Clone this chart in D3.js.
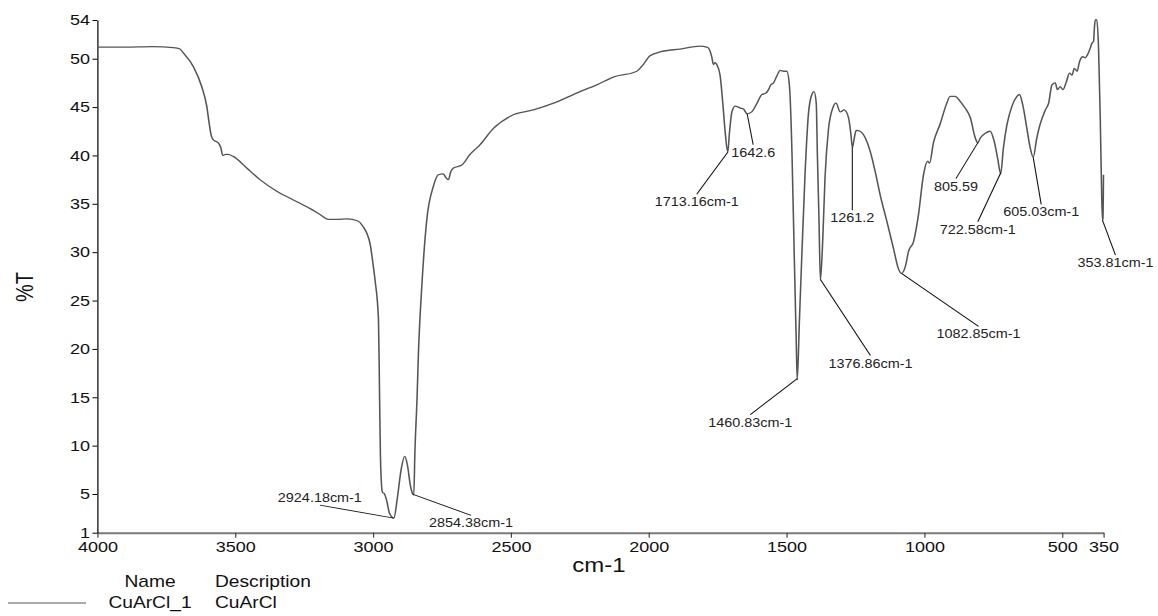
<!DOCTYPE html>
<html lang="en">
<head>
<meta charset="UTF-8">
<title>CuArCl IR spectrum</title>
<style>
    body { margin: 0; background: #fff; }
    svg text { font-family: "Liberation Sans", Arial, sans-serif; }
</style>
</head>
<body>
<script src="https://d3js.org/d3.v7.min.js"></script>
<script>
    // spectrum: wavenumber (cm-1) and %T
    var wavenumber = [
        4000, 3900, 3800, 3724, 3700, 3688, 3652, 3621, 3603, 3594, 3587, 3579, 3561, 3552, 3545, 3535, 3525, 3507,
        3458, 3410, 3349, 3289, 3228, 3192, 3162, 3130, 3095, 3053, 3035, 3023, 3010, 3000, 2992, 2980, 2976, 2973,
        2970, 2966, 2958, 2950, 2940, 2924, 2912, 2898, 2885, 2875, 2865, 2856, 2852, 2848, 2840, 2835, 2823, 2805,
        2781, 2763, 2745, 2735, 2726, 2718, 2708, 2678, 2648, 2612, 2563, 2491, 2418, 2345, 2249, 2188, 2128, 2043,
        2025, 1995, 1958, 1886, 1813, 1790, 1783, 1771, 1765, 1759, 1753, 1741, 1731, 1722, 1713, 1707, 1698, 1686,
        1668, 1656, 1643, 1626, 1607, 1589, 1577, 1565, 1557, 1547, 1535, 1523, 1508, 1499, 1489, 1480, 1472, 1465,
        1461, 1453, 1444, 1432, 1420, 1408, 1400, 1392, 1388, 1382, 1377, 1368, 1360, 1348, 1332, 1320, 1305, 1291,
        1275, 1266, 1261, 1254, 1247, 1233, 1214, 1196, 1178, 1160, 1136, 1112, 1094, 1083, 1069, 1057, 1039, 1021,
        1003, 988, 981, 967, 942, 921, 906, 888, 870, 852, 833, 815, 806, 797, 779, 761, 746, 734, 723, 713, 700,
        682, 664, 655, 642, 628, 616, 605, 592, 580, 561, 549, 537, 525, 517, 507, 497, 485, 473, 464, 456, 446,
        437, 425, 416, 408, 398, 392, 386, 383, 380, 374, 368, 362, 358, 354, 352, 350
    ];
    var transmittance = [
        51.2, 51.2, 51.25, 51.15, 51.0, 50.6, 49.2, 47.1, 45.1, 43.3, 42.1, 41.6, 41.3, 40.8, 40.0, 40.1, 40.1, 39.9,
        38.7, 37.5, 36.3, 35.4, 34.5, 33.9, 33.4, 33.4, 33.45, 33.2, 32.6, 32.0, 30.8, 28.8, 27.0, 23.0, 15.0, 9.0,
        6.5, 5.2, 5.0, 4.3, 3.0, 2.5, 4.5, 7.5, 8.9, 8.0, 6.0, 5.0, 4.9, 9.2, 15.0, 19.6, 26.4, 33.3,
        36.8, 38.0, 38.1, 37.7, 37.5, 38.3, 38.7, 39.0, 40.1, 41.1, 42.8, 44.2, 44.7, 45.4, 46.6, 47.3, 48.1, 48.7,
        49.2, 50.3, 50.7, 51.0, 51.3, 51.2, 51.1, 50.2, 49.4, 49.6, 49.4, 48.3, 45.4, 42.3, 40.3, 42.3, 44.5, 45.1,
        44.9, 44.8, 44.3, 44.5, 45.4, 46.3, 46.4, 46.8, 47.3, 47.5, 48.2, 48.8, 48.7, 48.7, 47.1, 40.2, 29.9, 21.3,
        16.8, 23.0, 29.9, 38.5, 44.4, 46.3, 46.6, 45.4, 40.2, 33.3, 27.1, 31.6, 37.8, 42.6, 44.9, 45.4, 44.5, 44.7,
        43.9, 42.1, 40.8, 41.8, 42.6, 42.5, 41.8, 40.4, 38.3, 35.9, 33.2, 30.4, 28.3, 27.8, 28.5, 30.1, 31.1, 33.9,
        38.0, 39.4, 39.2, 41.3, 43.3, 45.2, 46.1, 46.1, 45.6, 44.9, 43.9, 41.8, 41.3, 41.8, 42.3, 42.5, 41.4, 39.7, 38.1, 40.8, 43.2,
        45.1, 46.1, 46.3, 45.1, 42.8, 40.8, 39.8, 41.8, 43.2, 44.7, 45.4, 47.3, 47.5, 46.8, 47.1, 46.8, 47.6, 48.5, 48.3, 49.0, 48.7,
        49.7, 50.2, 50.1, 50.4, 51.1, 51.6, 51.8, 53.2, 54.0, 54.0, 51.1, 44.2, 38.0, 33.3, 33.5, 38.0
    ];

    var xTicks = [4000, 3500, 3000, 2500, 2000, 1500, 1000, 500, 350];
    var yTicks = [54, 50, 45, 40, 35, 30, 25, 20, 15, 10, 5, 1];

    var peakWavenumber = [2924.18, 2854.38, 1713.16, 1642.6, 1460.83, 1376.86, 1261.2, 1082.85, 805.59, 722.58, 605.03, 353.81];
    var peakLabel = ["2924.18cm-1", "2854.38cm-1", "1713.16cm-1", "1642.6", "1460.83cm-1", "1376.86cm-1",
                     "1261.2", "1082.85cm-1", "805.59", "722.58cm-1", "605.03cm-1", "353.81cm-1"];

    var legendName = ["CuArCl_1"];
    var legendDesc = ["CuArCl"];

    // where each peak label ends up, relative to its peak (screen px)
    var calloutOffset = [[-74, -13], [58, 21], [-31, 42], [6, 31], [-47, 36], [50, 76],
                         [0, 63], [77, 53], [-22, 36], [-23, 49], [8, 47], [13, 35]];

    // the whole picture is widened sideways, so draw narrow and stretch
    var stretch = 1.2;
    var width = 1158 / stretch;
    var height = 616;

    var svg = d3.select("body").append("svg")
        .attr("width", 1158).attr("height", height)
        .attr("viewBox", "0 0 " + width + " " + height)
        .attr("preserveAspectRatio", "none");

    var x = d3.scaleLinear().domain([4000, 350]).range([97.3 / stretch, 1103.5 / stretch]);
    var y = d3.scaleLinear().domain([1, 54]).range([532.7, 20]);

    function tAt(w) {
        for (var i = 1; i < wavenumber.length; i++) {
            if (wavenumber[i] <= w) {
                var f = (wavenumber[i - 1] - w) / (wavenumber[i - 1] - wavenumber[i]);
                return transmittance[i - 1] + f * (transmittance[i] - transmittance[i - 1]);
            }
        }
        return transmittance[transmittance.length - 1];
    }

    // axes
    var xAxis = svg.append("g")
        .attr("transform", "translate(0," + y(1) + ")")
        .call(d3.axisBottom(x).tickValues(xTicks).tickFormat(d3.format("d")).tickSize(5).tickSizeOuter(0).tickPadding(4));
    xAxis.select(".domain").attr("stroke", "#7a7a7a").attr("stroke-width", 2);
    xAxis.selectAll(".tick line").attr("stroke", "#444");
    xAxis.selectAll("text").attr("font-size", 15).attr("fill", "#111").style("font-family", "'Liberation Sans', Arial, sans-serif");

    var yAxis = svg.append("g")
        .attr("transform", "translate(" + x(4000) + ",0)")
        .call(d3.axisLeft(y).tickValues(yTicks).tickSize(4).tickSizeOuter(0).tickPadding(2));
    yAxis.select(".domain").attr("stroke", "#000").attr("stroke-width", 1);
    yAxis.selectAll("text").attr("font-size", 15).attr("fill", "#111").style("font-family", "'Liberation Sans', Arial, sans-serif");

    svg.append("text")
        .attr("x", 599 / stretch).attr("y", 572)
        .attr("text-anchor", "middle").attr("font-size", 20).attr("fill", "#111")
        .text("cm-1");

    svg.append("text")
        .attr("transform", "translate(" + (33 / stretch) + ",287) rotate(-90)")
        .attr("text-anchor", "middle").attr("font-size", 20).attr("fill", "#111")
        .text("%T");

    // spectrum
    var line = d3.line()
        .x(function (d, i) { return x(wavenumber[i]); })
        .y(function (d, i) { return y(transmittance[i]); })
        .curve(d3.curveMonotoneX);

    svg.append("path")
        .datum(wavenumber)
        .attr("d", line)
        .attr("fill", "none")
        .attr("stroke", "#555")
        .attr("stroke-width", 1.3);

    // peak callouts
    var callout = svg.selectAll(".callout").data(peakWavenumber).enter().append("g").attr("class", "callout");

    callout.append("line")
        .attr("x1", function (d) { return x(d); })
        .attr("y1", function (d) { return y(tAt(d)); })
        .attr("x2", function (d, i) { return x(d) + calloutOffset[i][0] / stretch; })
        .attr("y2", function (d, i) { return y(tAt(d)) + calloutOffset[i][1]; })
        .attr("stroke", "#111")
        .attr("stroke-width", 0.9);

    callout.append("text")
        .attr("x", function (d, i) { return x(d) + calloutOffset[i][0] / stretch; })
        .attr("y", function (d, i) {
            var endY = y(tAt(d)) + calloutOffset[i][1];
            return calloutOffset[i][1] < 0 ? endY - 3 : endY + 12;
        })
        .attr("text-anchor", "middle")
        .attr("font-size", 12)
        .attr("fill", "#222")
        .text(function (d, i) { return peakLabel[i]; });

    // legend table
    var legend = svg.append("g").attr("font-size", 16).attr("fill", "#111");
    legend.append("text").attr("x", 150 / stretch).attr("y", 587).attr("text-anchor", "middle").text("Name");
    legend.append("text").attr("x", 215 / stretch).attr("y", 587).text("Description");

    var row = legend.selectAll(".row").data(legendName).enter().append("g").attr("class", "row");
    row.append("line")
        .attr("x1", 8 / stretch).attr("x2", 86 / stretch)
        .attr("y1", function (d, i) { return 603 + i * 21; })
        .attr("y2", function (d, i) { return 603 + i * 21; })
        .attr("stroke", "#aaa").attr("stroke-width", 2);
    row.append("text")
        .attr("x", 150 / stretch).attr("y", function (d, i) { return 608 + i * 21; })
        .attr("text-anchor", "middle")
        .text(function (d) { return d; });
    row.append("text")
        .attr("x", 215 / stretch).attr("y", function (d, i) { return 608 + i * 21; })
        .text(function (d, i) { return legendDesc[i]; });
</script>
</body>
</html>
